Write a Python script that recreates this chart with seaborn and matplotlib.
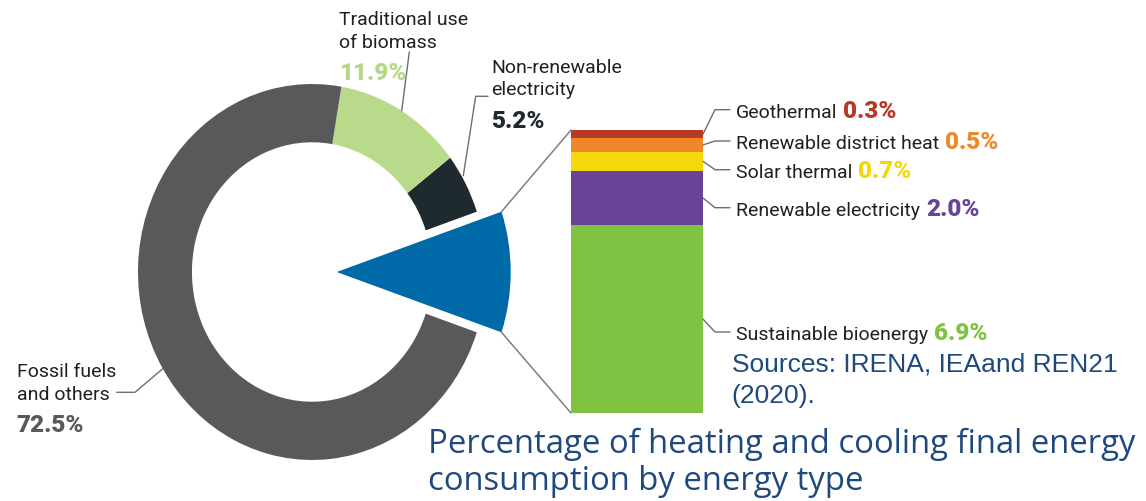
import numpy as np
import pandas as pd
import matplotlib
matplotlib.use("Agg")
import matplotlib.pyplot as plt
import seaborn as sns
from matplotlib.patches import ConnectionPatch

# Final energy consumption for heating and cooling, share by energy type (%)
ring_names = ["Fossil fuels\nand others", "Traditional use\nof biomass", "Non-renewable\nelectricity"]
ring_shares = [72.5, 11.9, 5.2]

# Modern renewables, listed from the bottom of the bar to the top
renew_names = ["Sustainable bioenergy", "Renewable electricity", "Solar thermal",
               "Renewable district heat", "Geothermal"]
renew_shares = [6.9, 2.0, 0.7, 0.5, 0.3]

ring_colors = {"Fossil fuels\nand others": "#58595B",
               "Traditional use\nof biomass": "#B8DA8A",
               "Non-renewable\nelectricity": "#1F2A2F"}
ring_pct_colors = {"Fossil fuels\nand others": "#58595B",
                   "Traditional use\nof biomass": "#B3D888",
                   "Non-renewable\nelectricity": "#1F2A2F"}
renew_color = "#0069A7"
bar_colors = {"Sustainable bioenergy": "#80C342",
              "Renewable electricity": "#6A4397",
              "Solar thermal": "#F6D70B",
              "Renewable district heat": "#F0882A",
              "Geothermal": "#B83A26"}

sns.set_theme(style="white")
plt.rcParams["font.family"] = ["Roboto", "DejaVu Sans"]

W, H = 1146, 502
fig = plt.figure(figsize=(W / 100, H / 100), dpi=100)
fig.patch.set_facecolor("white")

LABEL = "#231F20"
LEADER = "#6D6E71"
TITLE = "#1F497D"
PCT_SIZE = 17.5
PCT_WEIGHT = "heavy"

# ---- doughnut -------------------------------------------------------------
cx, cy, rx, ry = 312, 273, 174, 188
ax_pie = fig.add_axes([(cx - 1.25 * rx) / W, (H - cy - 1.25 * ry) / H,
                       2.5 * rx / W, 2.5 * ry / H])
renew_total = float(np.sum(renew_shares))
share = dict(zip(ring_names, ring_shares))
start = -renew_total * 3.6 / 2

ring_order = ["Non-renewable\nelectricity", "Traditional use\nof biomass", "Fossil fuels\nand others"]
ax_pie.pie([renew_total] + [share[n] for n in ring_order],
           colors=["none"] + [ring_colors[n] for n in ring_order],
           startangle=start, counterclock=True, radius=1.0,
           wedgeprops=dict(width=0.31, linewidth=0))
blue, _ = ax_pie.pie([renew_total, 100 - renew_total], colors=[renew_color, "none"],
                     explode=[0.142, 0], startangle=start, counterclock=True,
                     radius=1.0, wedgeprops=dict(linewidth=0))
ax_pie.set_aspect("auto")
ax_pie.set_xlim(-1.25, 1.25)
ax_pie.set_ylim(-1.25, 1.25)
ax_pie.axis("off")

# ---- stacked bar of modern renewables -------------------------------------
bx0, bx1, btop, bbot = 571, 703, 131, 414
ax_bar = fig.add_axes([bx0 / W, (H - bbot) / H, (bx1 - bx0) / W, (bbot - btop) / H])
df = pd.DataFrame({"source": renew_names, "share": renew_shares})
df["top"] = df["share"].cumsum()
df["group"] = "Modern renewables"
sns.barplot(data=df, x="group", y="top", hue="source", hue_order=renew_names[::-1],
            palette=bar_colors, dodge=False, width=1.0, saturation=1,
            errorbar=None, legend=False, linewidth=0, ax=ax_bar)
ax_bar.set_xlim(-0.5, 0.5)
ax_bar.set_ylim(0, renew_total)
ax_bar.axis("off")

# lines joining the renewable wedge to the bar
w = blue[0]
for ang, ybar in [(w.theta2, renew_total), (w.theta1, 0.0)]:
    corner = (w.center[0] + w.r * np.cos(np.radians(ang)),
              w.center[1] + w.r * np.sin(np.radians(ang)))
    con = ConnectionPatch(xyA=corner, coordsA=ax_pie.transData,
                          xyB=(-0.5, ybar), coordsB=ax_bar.transData,
                          color="#808080", lw=1.1)
    fig.add_artist(con)

# ---- annotation layer in pixel units --------------------------------------
ax_bg = fig.add_axes([0, 0, 1, 1])
ax_bg.set_xlim(0, W)
ax_bg.set_ylim(H, 0)
ax_bg.axis("off")
ax_bg.patch.set_alpha(0)
ax_bg.set_zorder(5)

renderer = fig.canvas.get_renderer()


def label_with_pct(x, base, text, pct, pct_color, size=14):
    t = ax_bg.text(x, base, text, fontsize=size, color=LABEL, va="baseline", ha="left")
    x1 = t.get_window_extent(renderer=renderer).x1
    xd = ax_bg.transData.inverted().transform((x1, 0))[0]
    ax_bg.text(xd + 6, base, pct, fontsize=PCT_SIZE, fontweight=PCT_WEIGHT,
               color=pct_color, va="baseline", ha="left")


# bar labels with elbow leaders
bar_baselines = {"Geothermal": 117.7, "Renewable district heat": 149,
                 "Solar thermal": 177.7, "Renewable electricity": 215.7,
                 "Sustainable bioenergy": 340}
for name, val, top in zip(df["source"], df["share"], df["top"]):
    mid = ax_bar.transData.transform((0.5, top - val / 2))
    sx, sy = ax_bg.transData.inverted().transform(mid)
    base = bar_baselines[name]
    ly = base - 7
    ax_bg.plot([sx, 715, 730], [sy, ly, ly], color=LEADER, lw=1.0,
               solid_joinstyle="miter")
    label_with_pct(736, base, name, f"{val:.1f}%", bar_colors[name])

# doughnut labels
ring_layout = {
    "Traditional use\nof biomass": (339, [25, 48.3], 80,
                                    [(409.3, 53), (401.7, 111.7)]),
    "Non-renewable\nelectricity": (491, [73.3, 95], 128.3,
                                   [(488, 97.3), (475.7, 97.3), (463.3, 176.7)]),
    "Fossil fuels\nand others": (16.7, [376.7, 400], 431.7,
                                 [(116.7, 393.3), (135, 393.3), (163.3, 369.3)]),
}
for name, val in zip(ring_names, ring_shares):
    x, bases, pbase, pts = ring_layout[name]
    for line, b in zip(name.split("\n"), bases):
        ax_bg.text(x, b, line, fontsize=14, color=LABEL, va="baseline", ha="left")
    ax_bg.text(x, pbase, f"{val:.1f}%", fontsize=PCT_SIZE, fontweight=PCT_WEIGHT,
               color=ring_pct_colors[name], va="baseline", ha="left")
    px, py = zip(*pts)
    ax_bg.plot(px, py, color=LEADER, lw=1.0)

# source and caption
for line, b in zip(["Sources: IRENA, IEAand REN21", "(2020)."], [371.7, 403.3]):
    ax_bg.text(731.7, b, line, fontsize=19, color=TITLE, va="baseline", ha="left",
               family=["Liberation Sans", "DejaVu Sans"])
for line, b in zip(["Percentage of heating and cooling final energy",
                    "consumption by energy type"], [453.3, 490]):
    ax_bg.text(428.3, b, line, fontsize=23.7, color=TITLE, va="baseline", ha="left",
               family=["Open Sans", "DejaVu Sans"])

fig.savefig("out.png", dpi=100, facecolor="white")
